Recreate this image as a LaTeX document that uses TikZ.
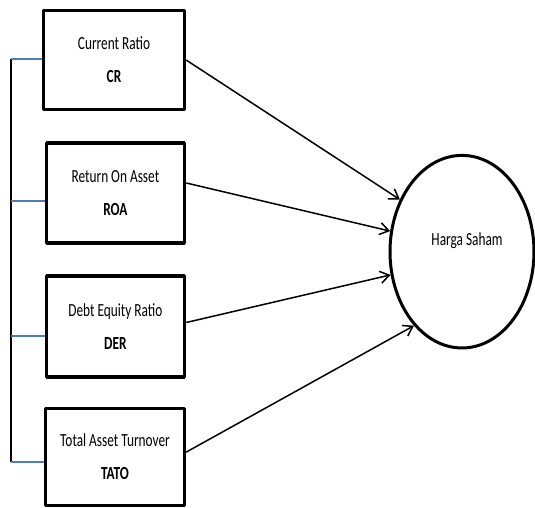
\documentclass[tikz,border=0pt]{standalone}
\usepackage{fontspec}
\setmainfont{Carlito}[FakeStretch=0.72]
\usepackage{tikz}
\usetikzlibrary{arrows.meta,shapes}

\definecolor{linkblue}{rgb}{0.29,0.494,0.733}

\begin{document}
\begin{tikzpicture}[>={Straight Barb[length=9bp,width=12bp]},line join=bevel,
  ratio/.style={draw,line width=3.5bp,align=center,inner sep=0pt,
    font=\fontsize{18.5bp}{33bp}\selectfont},
  target/.style={draw,ellipse,line width=3bp,inner sep=0pt,
    minimum width=144bp,minimum height=192.6bp},
  edge/.style={->,line width=1.5bp},
  link/.style={line width=2bp,linkblue}]
  \useasboundingbox (0bp,0bp) rectangle (535bp,508bp);
%%
  % Node: CR
  \node[ratio,minimum width=141bp,minimum height=99bp] (cr) at (114bp,447.9bp)
    {Current Ratio\\\textbf{CR}};
  % Node: ROA
  \node[ratio,minimum width=138.2bp,minimum height=100bp] (roa) at (115.4bp,315bp)
    {Return On Asset\\\textbf{ROA}};
  % Node: DER
  \node[ratio,minimum width=138.2bp,minimum height=101bp] (der) at (115.4bp,181.5bp)
    {Debt Equity Ratio\\\textbf{DER}};
  % Node: TATO
  \node[ratio,minimum width=139bp,minimum height=96.8bp] (tato) at (115bp,50.9bp)
    {Total Asset Turnover\\\textbf{TATO}};
  % Node: harga saham
  \node[target,label={[shift={(5bp,11bp)},font=\fontsize{18.5bp}{21bp}\selectfont]center:Harga Saham}]
    (hs) at (462bp,256.3bp) {};
%
  % Bracket
  \coordinate (k1) at (11bp,448.5bp);
  \coordinate (k2) at (11bp,307bp);
  \coordinate (k3) at (11bp,172.3bp);
  \coordinate (k4) at (11bp,46.3bp);
  \draw[line width=1.8bp] (k1) -- (k4);
  \draw[link] (k1) -- (k1 -| cr.west);
  \draw[link] (k2) -- (k2 -| roa.west);
  \draw[link] (k3) -- (k3 -| der.west);
  \draw[link] (k4) -- (k4 -| tato.west);
%
  % Edge: CR -> hs
  \draw[edge] (cr.east) -- (hs.140.2);
  % Edge: ROA -> hs
  \draw[edge] ([yshift=10bp]roa.east) -- (hs.164.2);
  % Edge: DER -> hs
  \draw[edge] ([yshift=4bp]der.east) -- (hs.198.4);
  % Edge: TATO -> hs
  \draw[edge] ([yshift=5bp]tato.east) -- (hs.237.7);
%
\end{tikzpicture}
\end{document}
